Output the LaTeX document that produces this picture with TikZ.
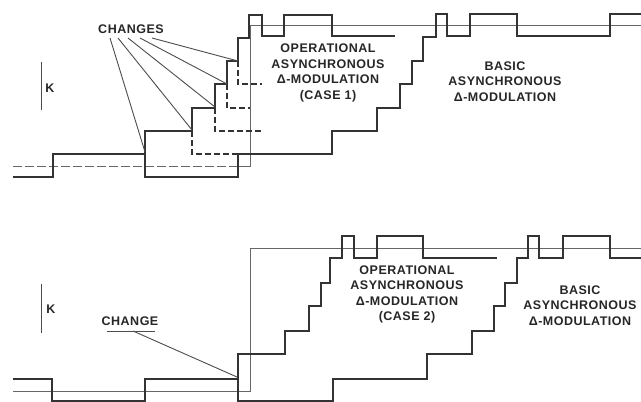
\documentclass[tikz,border=0pt]{standalone}
\usepackage{fontspec}
\setmainfont{Liberation Sans}
\begin{document}
\begin{tikzpicture}[x=1pt,y=-1pt,
  sig/.style={line width=1.7pt,draw=black!80,line join=miter},
  inp/.style={line width=0.8pt,draw=black!60},
  alt/.style={line width=1.4pt,draw=black!80,dash pattern=on 6pt off 3pt},
  lead/.style={line width=0.9pt,draw=black!70},
  lbl/.style={font=\fontsize{12.5}{15.5}\selectfont\bfseries\addfontfeature{LetterSpace=4},text=black!85,align=center,inner sep=0pt},
  kbar/.style={line width=1pt,draw=black!70}]
\useasboundingbox (0,0) rectangle (641,402);

% ---------------- top panel ----------------
% input (thin)
\draw[inp,dash pattern=on 9pt off 3pt] (13,166) -- (238,166);
\draw[inp] (238,166) -- (250,166) -- (250,25) -- (641,25);
% basic asynchronous
\draw[sig] (13,177) -- (53,177) -- (53,154) -- (145,154) -- (145,177) -- (238,177) -- (238,154)
  -- (332,154) -- (332,131) -- (377,131) -- (377,108) -- (400,108) -- (400,84) -- (412,84)
  -- (412,61) -- (423,61) -- (423,37) -- (436,37) -- (436,14) -- (447,14) -- (447,36)
  -- (470,36) -- (470,14) -- (517,14) -- (517,36) -- (610,36) -- (610,14) -- (641,14);
% operational case 1
\draw[sig] (145,154) -- (145,131) -- (192,131) -- (192,108) -- (215,108) -- (215,84) -- (227,84)
  -- (227,61) -- (238,61) -- (238,38) -- (249,38) -- (249,15) -- (262,15) -- (262,36)
  -- (284,36) -- (284,15) -- (332,15) -- (332,36) -- (395,36);
% alternatives (dashed)
\draw[alt] (192,131) -- (192,154) -- (238,154);
\draw[alt] (215,108) -- (215,131) -- (262,131);
\draw[alt] (227,84) -- (227,108) -- (250,108);
\draw[alt] (238,61) -- (238,84) -- (262,84);

% change points
\coordinate (c1) at (145,152);
\coordinate (c2) at (192,130);
\coordinate (c3) at (215,107);
\coordinate (c4) at (227,84);
\coordinate (c5) at (238,61);
\node[lbl] (changes) at (131,29) {CHANGES};
\coordinate (o1) at (110,38);
\coordinate (o2) at (118,38);
\coordinate (o3) at (128,38);
\coordinate (o4) at (140,38);
\coordinate (o5) at (152,38);
\draw[lead] (o1) -- (c1);
\draw[lead] (o2) -- (c2);
\draw[lead] (o3) -- (c3);
\draw[lead] (o4) -- (c4);
\draw[lead] (o5) -- (c5);

% K marker
\coordinate (ka1) at (41,62);
\coordinate (kb1) at (41,110);
\draw[kbar] (ka1) -- (kb1);
\node[lbl] (k1) at (50,88) {K};

\node[lbl] (op1) at (328,73) {OPERATIONAL\\ASYNCHRONOUS\\Δ-MODULATION\\(CASE 1)};
\node[lbl] (ba1) at (505,81.5) {BASIC\\ASYNCHRONOUS\\Δ-MODULATION};

% ---------------- bottom panel ----------------
\draw[inp] (13,391) -- (250,391) -- (250,248) -- (641,248);
% basic
\draw[sig] (13,379) -- (52,379) -- (52,401) -- (145,401) -- (145,379) -- (238,379) -- (238,401)
  -- (333,401) -- (333,379) -- (427,379) -- (427,354) -- (472,354) -- (472,331) -- (494,331)
  -- (494,306) -- (505,306) -- (505,283) -- (517,283) -- (517,258) -- (528,258) -- (528,236)
  -- (539,236) -- (539,258) -- (563,258) -- (563,236) -- (610,236) -- (610,258) -- (641,258);
% operational case 2
\draw[sig] (238,379) -- (238,354) -- (285,354) -- (285,331) -- (309,331) -- (309,306) -- (321,306)
  -- (321,283) -- (330,283) -- (330,258) -- (342,258) -- (342,236) -- (354,236) -- (354,258)
  -- (377,258) -- (377,236) -- (423,236) -- (423,258) -- (497,258);

\node[lbl] (change) at (130,321) {CHANGE};
\coordinate (ul1) at (107,331);
\coordinate (ul2) at (155,331);
\coordinate (lo) at (133,331);
\coordinate (c6) at (237,377);
\draw[lead] (ul1) -- (ul2);
\draw[lead] (lo) -- (c6);

\coordinate (ka2) at (41,284);
\coordinate (kb2) at (41,333);
\draw[kbar] (ka2) -- (kb2);
\node[lbl] (k2) at (51,309) {K};

\node[lbl] (op2) at (407,294.5) {OPERATIONAL\\ASYNCHRONOUS\\Δ-MODULATION\\(CASE 2)};
\node[lbl] (ba2) at (580,305.5) {BASIC\\ASYNCHRONOUS\\Δ-MODULATION};
\end{tikzpicture}
\end{document}
